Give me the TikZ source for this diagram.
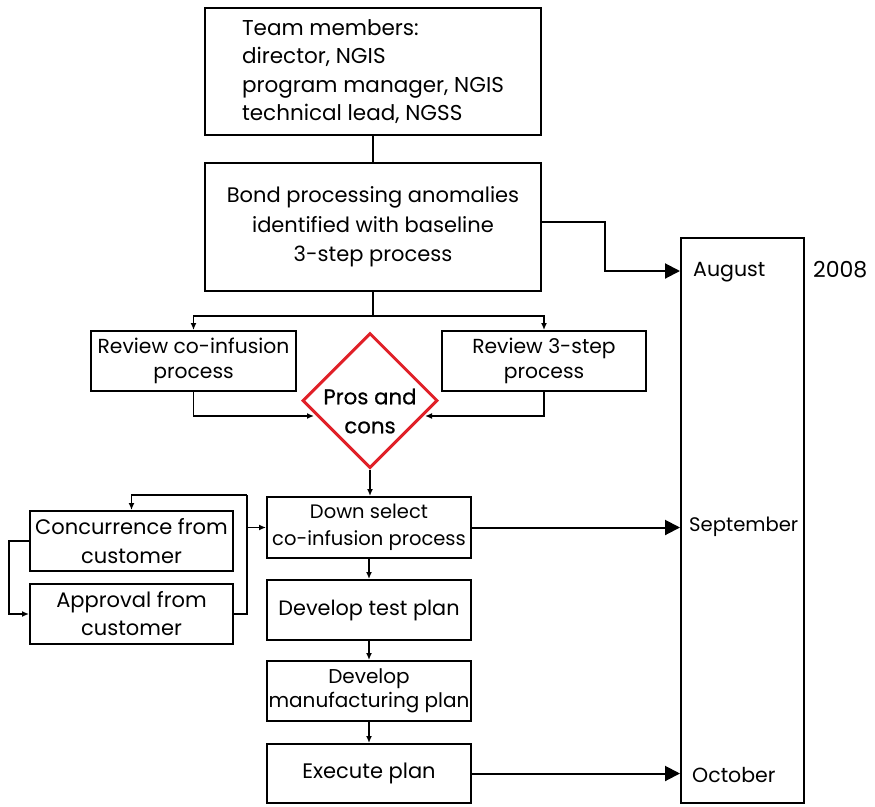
\documentclass[tikz,border=0pt]{standalone}
\usepackage{fontspec}
\setmainfont{Poppins}
\usetikzlibrary{arrows.meta,shapes.geometric}
\definecolor{diared}{RGB}{224,32,40}
\tikzset{
  box/.style={draw,line width=2pt,align=center,inner sep=0pt},
  fs/.style n args={2}{font=\fontsize{#1}{#2}\selectfont},
  flow/.style={line width=1.8pt,-{Latex[length=7pt,width=6pt]}},
  plain/.style={line width=1.8pt},
  bigarrow/.style={line width=2pt,-{Triangle[length=15pt,width=15pt]}},
  month/.style={anchor=west,inner sep=0pt,font=\fontsize{20.5}{24}\selectfont}
}
\begin{document}
\begin{tikzpicture}[x=1pt,y=-1pt]
\useasboundingbox (0,0) rectangle (875,806);

% main column
\node[box,minimum width=336pt,minimum height=127pt,align=left,fs={21.5}{28.5}] (team) at (373,71.5)
  {Team members:\\director, NGIS\\program manager, NGIS\\technical lead, NGSS};
\node[box,minimum width=336pt,minimum height=128pt,fs={21}{29.5}] (bond) at (373,227)
  {Bond processing anomalies\\identified with baseline\\3-step process};
\node[box,minimum width=205pt,minimum height=60pt,fs={20.3}{24.5}] (rev1) at (193.5,361)
  {Review co-infusion\\process};
\node[box,minimum width=204pt,minimum height=60pt,fs={20.3}{24.5}] (rev2) at (544,361)
  {Review 3-step\\process};
\node[draw=diared,line width=3pt,diamond,minimum width=135pt,minimum height=135pt,inner sep=0pt] (pros) at (370,400.5) {};
\node[align=center,inner sep=0pt,font=\fontsize{21.3}{29}\selectfont\addfontfeatures{FakeBold=0.6}] (proslbl) at (370,411) {Pros and\\cons};
\node[box,minimum width=204pt,minimum height=61pt,fs={19.5}{27}] (down) at (369,527.5)
  {Down select\\co-infusion process};
\node[box,minimum width=204pt,minimum height=60pt,fs={20.8}{26}] (test) at (369,610)
  {Develop test plan};
\node[box,minimum width=204pt,minimum height=60pt,fs={20}{23.5}] (manu) at (369,691)
  {Develop\\manufacturing plan};
\node[box,minimum width=204pt,minimum height=59pt,fs={21}{26}] (exec) at (369,773.5)
  {Execute plan};

% customer loop
\node[box,minimum width=203pt,minimum height=60pt,fs={21}{28.5}] (conc) at (131.5,541)
  {Concurrence from\\customer};
\node[box,minimum width=203pt,minimum height=60pt,fs={21}{28}] (appr) at (131.5,614)
  {Approval from\\customer};

% timeline
\node[draw,line width=2pt,minimum width=123pt,minimum height=565pt,inner sep=0pt] (tl) at (742.5,520.5) {};
\node[month] (aug) at (693,272) {August};
\node[month,font=\fontsize{19.6}{24}\selectfont] (sep) at (689,527) {September};
\node[month] (oct) at (692,775) {October};
\node[month,font=\fontsize{22}{24}\selectfont] (year) at (813,270) {2008};

% connectors
\draw[plain] (team.south) -- (bond.north);
\coordinate (split) at (373,316);
\draw[plain] (bond.south) -- (split);
\draw[flow] (split) -| (rev1.north);
\draw[flow] (split) -| (rev2.north);
\draw[flow] (rev1.south) |- (314,416);
\draw[flow] (rev2.south) |- (425,416);
\draw[flow] (pros.south) -- (pros.south |- down.north);
\draw[flow] (down.south) -- (test.north);
\draw[flow] (test.south) -- (manu.north);
\draw[flow] (manu.south) -- (exec.north);

\coordinate (augin) at (680,271);
\draw[bigarrow] ([yshift=5pt]bond.east) -- (605,222) |- (augin);
\draw[bigarrow] (down.east) -- (tl.west |- down.east);
\draw[bigarrow] (exec.east) -- (tl.west |- exec.east);

\draw[flow] (conc.west) -- (9,541) |- (appr.west);
\coordinate (loopr) at (247,614);
\draw[plain] (appr.east) -- (loopr) -- (247,495);
\draw[flow] (247,495) -| (conc.north);
\draw[flow] (247,527.5) -- (down.west);
\end{tikzpicture}
\end{document}
